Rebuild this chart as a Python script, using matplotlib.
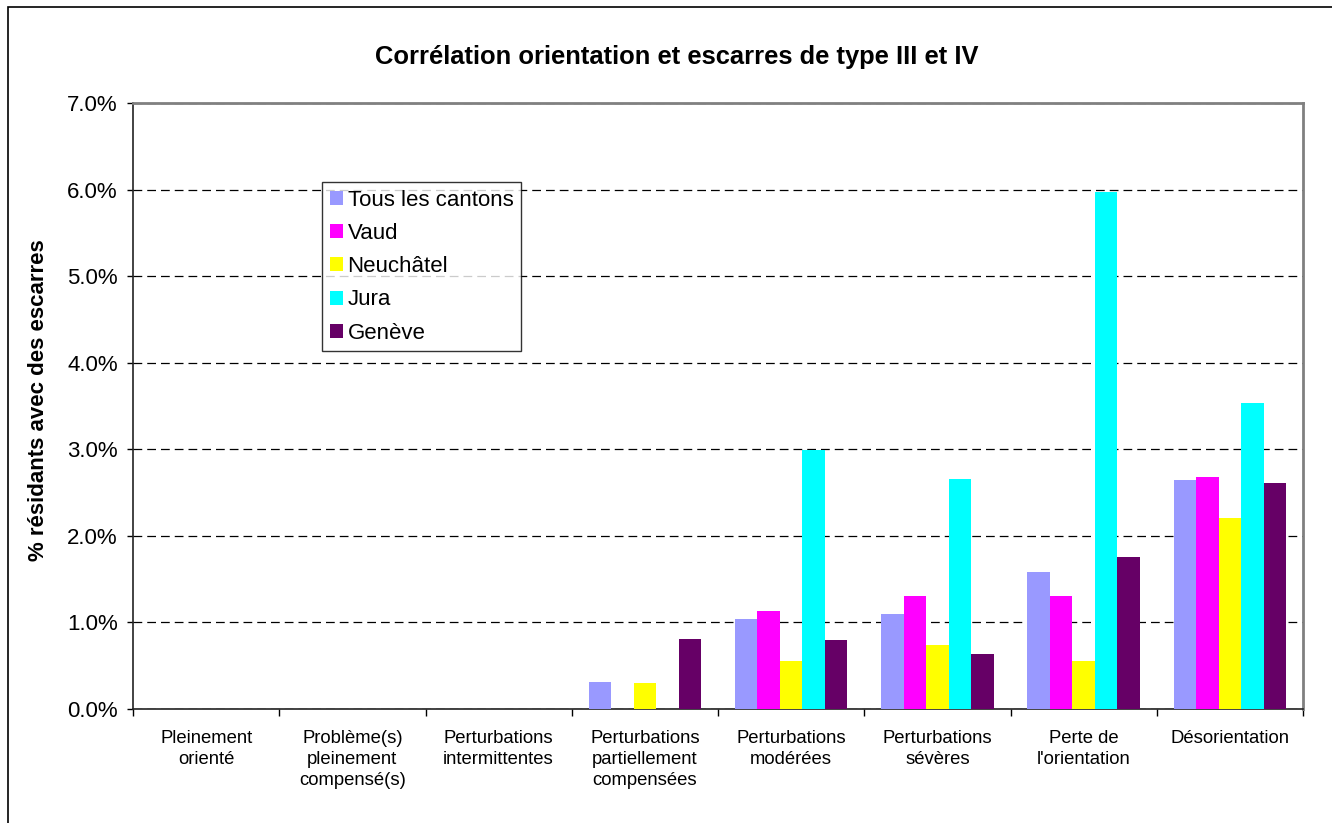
import numpy as np
import matplotlib
matplotlib.use('Agg')
import matplotlib.pyplot as plt
from matplotlib.patches import Rectangle
from matplotlib.ticker import FuncFormatter, FixedLocator

plt.rcParams['font.family'] = ['Liberation Sans', 'DejaVu Sans']

# Categories and values (% residents with bedsores)
categories = ["Pleinement\norienté", "Problème(s)\npleinement\ncompensé(s)",
              "Perturbations\nintermittentes", "Perturbations\npartiellement\ncompensées",
              "Perturbations\nmodérées", "Perturbations\nsévères",
              "Perte de\nl'orientation", "Désorientation"]
series_names = ["Tous les cantons", "Vaud", "Neuchâtel", "Jura", "Genève"]
tous = [0, 0, 0, 0.31, 1.04, 1.10, 1.58, 2.64]
vaud = [0, 0, 0, 0, 1.13, 1.31, 1.30, 2.675]
neuchatel = [0, 0, 0, 0.30, 0.55, 0.735, 0.55, 2.21]
jura = [0, 0, 0, 0, 2.99, 2.66, 5.97, 3.53]
geneve = [0, 0, 0, 0.81, 0.80, 0.63, 1.76, 2.615]
colors = ["#9999FF", "#FF00FF", "#FFFF00", "#00FFFF", "#660066"]

fig = plt.figure(figsize=(13.32, 8.23), dpi=100)
ax = fig.add_axes([133 / 1332, 1 - 709 / 823, (1303 - 133) / 1332, (709 - 103) / 823])

# outer chart frame (only top and left visible)
fig.patches.append(Rectangle((8 / 1332, -0.1), 1.2, 1 - 7 / 823 + 0.1, transform=fig.transFigure,
                             fill=False, edgecolor='black', linewidth=1.2))

x = np.arange(len(categories))
w = 1 / 6.5
all_series = [tous, vaud, neuchatel, jura, geneve]
for i, (vals, name, col) in enumerate(zip(all_series, series_names, colors)):
    ax.bar(x + (i - 2) * w, vals, width=w, color=col, label=name, zorder=3)

ax.set_xlim(-0.5, len(categories) - 0.5)
ax.set_ylim(0, 7)
ax.yaxis.set_major_locator(FixedLocator(np.arange(0, 7.01, 1)))
ax.yaxis.set_major_formatter(FuncFormatter(lambda v, p: f"{v:.1f}%"))
ax.grid(axis='y', color='black', linestyle=(0, (7, 4)), linewidth=0.9, zorder=1)

ax.set_xticks(x)
ax.set_xticklabels(categories, fontsize=13.3, linespacing=1.3)
ax.set_xticks(np.arange(-0.5, len(categories)), minor=True)
ax.tick_params(axis='x', which='major', length=0, pad=15)
ax.tick_params(axis='x', which='minor', length=5, width=1, direction='out')
ax.tick_params(axis='y', labelsize=16, length=4, width=1, direction='out', pad=7)

for side in ['top', 'right']:
    ax.spines[side].set_color('#808080')
    ax.spines[side].set_linewidth(2)
for side in ['left', 'bottom']:
    ax.spines[side].set_color('#222222')
    ax.spines[side].set_linewidth(1.2)

ax.set_ylabel("% résidants avec des escarres", fontsize=16, fontweight='bold')
ax.yaxis.set_label_coords((49 - 133) / 1170, 0.51)
fig.text(677 / 1332, 1 - 57 / 823, "Corrélation orientation et escarres de type III et IV",
         ha='center', va='center', fontsize=18.4, fontweight='bold')

leg = ax.legend(loc='upper left', bbox_to_anchor=((322 - 133) / 1170, (709 - 182) / 606),
                fontsize=16, frameon=True, fancybox=False, edgecolor='black',
                handlelength=0.6, handleheight=0.6, handletextpad=0.2,
                labelspacing=0.55, borderpad=0.35, borderaxespad=0)
leg.get_frame().set_linewidth(1)
leg.set_zorder(5)

fig.savefig('out.png', dpi=100)
